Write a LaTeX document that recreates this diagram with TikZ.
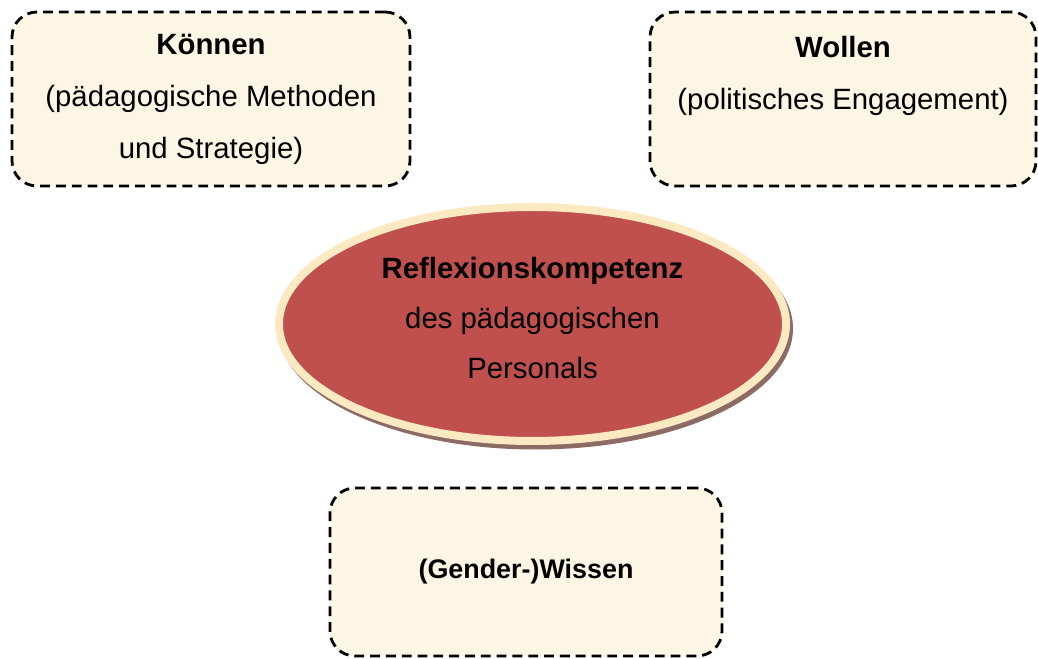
\documentclass[tikz,border=0pt]{standalone}
\usepackage{fontspec}
\setmainfont{Liberation Sans}
\usetikzlibrary{positioning,shapes.geometric}
\definecolor{boxcream}{HTML}{FEF6E5}
\definecolor{ringcream}{HTML}{FBE9C2}
\definecolor{kernred}{HTML}{C0504D}
\definecolor{shadowbrown}{HTML}{8C6A66}

\begin{document}
\begin{tikzpicture}[
  pillar/.style={rectangle,rounded corners=0.5cm,draw=black,dashed,
    dash pattern=on 5.6pt off 3.4pt,line width=1.6pt,fill=boxcream,
    align=center,font=\fontsize{16.7}{29.6}\selectfont},
  kern/.style={ellipse,draw=ringcream,line width=0.16cm,fill=kernred,
    minimum width=10.14cm,minimum height=4.68cm}]
  \useasboundingbox (0,0) rectangle (20.76,13.16);
  %Nodes
  \node at (4.22,11.18) [pillar,minimum width=7.96cm,minimum height=3.48cm] (koennen)
    {\textbf{Können}\\(pädagogische Methoden\\und Strategie)};
  \node at (16.86,11.18) [pillar,minimum width=7.72cm,minimum height=3.48cm] (wollen)
    {\textbf{Wollen}\\(politisches Engagement)\\\mbox{}};
  \node at (10.52,1.72) [pillar,minimum width=7.84cm,minimum height=3.36cm,
    font=\fontsize{15.3}{20}\selectfont] (wissen) {\textbf{(Gender-)Wissen}};

  %Ellipse
  \node at (10.71,6.59) [ellipse,fill=shadowbrown,minimum width=10.3cm,minimum height=4.84cm] (schatten) {};
  \node at (10.65,6.68) [kern,label={[align=center,yshift=0.12cm,
      font=\fontsize{16.7}{28.2}\selectfont]center:\textbf{Reflexionskompetenz}\\des pädagogischen\\Personals}] (reflexion) {};
\end{tikzpicture}
\end{document}
